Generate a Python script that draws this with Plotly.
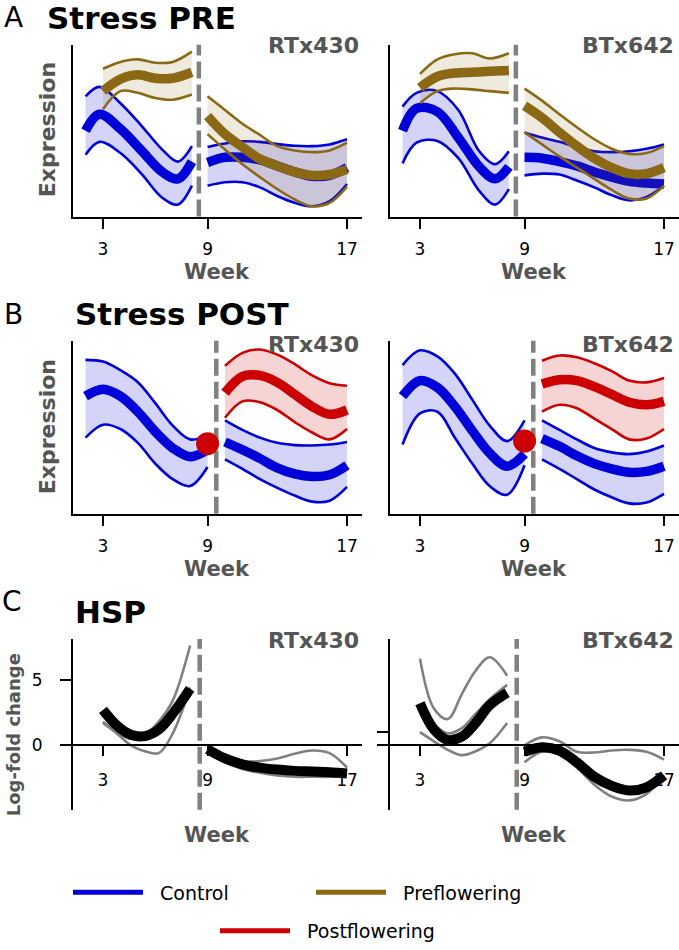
import plotly.graph_objects as go

# ---------------- data ----------------
WEEK_TICKS = [3, 9, 17]
WEEK_TICKTEXT = ["3", "9", "17"]

# Panel A: Stress PRE
A_CTRL_PRE_X = [2.0, 2.8, 4.0, 5.2, 6.4, 7.3, 8.1]
A_STRS_PRE_X = [3.0, 4.0, 5.0, 6.0, 7.0, 8.1]
A_POST_X = [9, 10, 11, 12, 13, 14, 15, 16, 17]

A_R_CTRL_PRE_MEAN = [5.0, 5.95, 5.1, 3.85, 2.6, 2.2, 3.2]
A_R_CTRL_PRE_UP = [7.0, 7.55, 6.6, 5.3, 3.9, 3.2, 4.1]
A_R_CTRL_PRE_LO = [3.6, 4.35, 3.7, 2.5, 1.1, 0.7, 1.8]
A_R_STRS_PRE_MEAN = [7.3, 8.0, 8.25, 8.05, 8.05, 8.4]
A_R_STRS_PRE_UP = [8.6, 9.0, 9.15, 8.95, 9.0, 9.6]
A_R_STRS_PRE_LO = [6.25, 7.3, 7.2, 6.9, 6.8, 7.1]
A_R_CTRL_POST_MEAN = [3.15, 3.45, 3.45, 3.3, 2.95, 2.6, 2.35, 2.4, 2.85]
A_R_CTRL_POST_UP = [4.05, 4.25, 4.38, 4.35, 4.22, 4.12, 4.1, 4.2, 4.5]
A_R_CTRL_POST_LO = [1.8, 2.0, 2.0, 1.7, 1.2, 0.8, 0.6, 0.9, 1.9]
A_R_STRS_POST_MEAN = [5.85, 4.8, 4.05, 3.35, 2.95, 2.6, 2.4, 2.45, 2.75]
A_R_STRS_POST_UP = [7.0, 6.2, 5.4, 4.75, 4.1, 3.85, 3.75, 3.85, 4.3]
A_R_STRS_POST_LO = [4.8, 3.9, 3.05, 2.3, 1.6, 1.0, 0.6, 0.8, 1.75]

A_B_CTRL_PRE_MEAN = [5.0, 6.3, 6.1, 4.6, 2.9, 2.2, 2.9]
A_B_CTRL_PRE_UP = [6.4, 7.2, 7.3, 6.2, 3.8, 3.05, 3.8]
A_B_CTRL_PRE_LO = [3.1, 4.3, 4.4, 3.4, 1.5, 0.7, 1.6]
A_B_STRS_PRE_MEAN = [7.5, 8.15, 8.35, 8.4, 8.45, 8.5]
A_B_STRS_PRE_UP = [8.3, 9.15, 9.45, 9.5, 9.2, 9.5]
A_B_STRS_PRE_LO = [6.6, 7.3, 7.45, 7.4, 7.3, 7.2]
A_B_CTRL_POST_MEAN = [3.45, 3.4, 3.2, 2.95, 2.6, 2.3, 2.05, 1.95, 1.9]
A_B_CTRL_POST_UP = [4.9, 4.6, 4.35, 4.05, 3.8, 3.75, 3.8, 3.95, 4.2]
A_B_CTRL_POST_LO = [2.4, 2.5, 2.45, 2.1, 1.7, 1.25, 0.95, 1.15, 1.8]
A_B_STRS_POST_MEAN = [6.45, 5.75, 4.9, 4.1, 3.4, 2.85, 2.5, 2.5, 2.85]
A_B_STRS_POST_UP = [7.45, 6.75, 5.95, 5.2, 4.5, 3.95, 3.65, 3.7, 4.1]
A_B_STRS_POST_LO = [4.9, 4.2, 3.5, 2.85, 2.2, 1.55, 1.05, 1.05, 1.8]

# Panel B: Stress POST
B_PRE_X = [2, 3, 4, 5, 6, 7, 8, 9]
B_POST_X = [10, 11, 12, 13, 14, 15, 16, 17]

B_R_CTRL_PRE_MEAN = [6.8, 7.2, 6.8, 5.9, 4.75, 3.8, 3.3, 3.7]
B_R_CTRL_PRE_UP = [8.9, 8.8, 8.3, 7.6, 6.4, 5.1, 4.3, 4.55]
B_R_CTRL_PRE_LO = [4.4, 5.15, 4.9, 4.1, 2.9, 2.0, 1.6, 2.7]
B_R_DOT = (9, 4.05)
B_R_STRS_POST_MEAN = [7.0, 7.95, 8.0, 7.6, 6.9, 6.2, 5.75, 6.0]
B_R_STRS_POST_UP = [8.55, 9.3, 9.5, 9.2, 8.65, 8.0, 7.55, 7.4]
B_R_STRS_POST_LO = [5.55, 6.5, 6.45, 6.0, 5.3, 4.7, 4.3, 4.9]
B_R_CTRL_POST_MEAN = [4.15, 3.7, 3.2, 2.65, 2.3, 2.15, 2.25, 2.8]
B_R_CTRL_POST_UP = [5.4, 4.85, 4.4, 4.1, 3.97, 3.95, 4.0, 4.15]
B_R_CTRL_POST_LO = [3.15, 2.6, 2.0, 1.5, 1.05, 0.7, 0.75, 1.55]

B_B_CTRL_PRE_MEAN = [6.8, 7.7, 7.3, 6.2, 4.8, 3.5, 2.75, 3.45]
B_B_CTRL_PRE_UP = [8.6, 9.45, 9.1, 8.1, 6.6, 5.1, 4.2, 5.4]
B_B_CTRL_PRE_LO = [4.0, 5.8, 5.9, 4.4, 2.9, 1.6, 1.1, 2.8]
B_B_DOT = (9, 4.2)
B_B_STRS_POST_MEAN = [7.5, 7.75, 7.7, 7.35, 6.9, 6.45, 6.3, 6.5]
B_B_STRS_POST_UP = [8.85, 9.15, 9.05, 8.7, 8.25, 7.7, 7.6, 7.85]
B_B_STRS_POST_LO = [5.9, 6.3, 6.1, 5.5, 4.9, 4.3, 4.35, 4.9]
B_B_CTRL_POST_MEAN = [4.35, 3.9, 3.35, 2.9, 2.6, 2.4, 2.45, 2.75]
B_B_CTRL_POST_UP = [5.4, 4.85, 4.3, 3.8, 3.55, 3.45, 3.6, 3.95]
B_B_CTRL_POST_LO = [3.15, 2.6, 2.0, 1.4, 0.95, 0.6, 0.65, 1.15]

# Panel C: HSP log-fold change
C_PRE_X = [3.0, 3.8, 4.6, 5.4, 6.2, 7.0, 8.0]
C_POST_X = [9, 10, 11, 12, 13, 14, 15, 16, 17]

C_R_PRE_MEAN = [2.7, 1.5, 0.8, 0.7, 1.2, 2.4, 4.3]
C_R_PRE_G1 = [1.8, 1.0, 0.5, 0.8, 1.8, 3.4, 7.6]
C_R_PRE_G2 = [1.7, 0.9, 0.0, -0.45, -0.6, 0.9, 4.4]
C_R_POST_MEAN = [-0.3, -1.0, -1.45, -1.7, -1.85, -1.95, -2.0, -2.05, -2.15]
C_R_POST_G1 = [-0.3, -0.9, -1.25, -1.2, -1.0, -0.65, -0.4, -0.6, -1.7]
C_R_POST_G2 = [-0.5, -1.3, -1.8, -2.1, -2.3, -2.4, -2.4, -2.4, -2.3]

C_B_PRE_MEAN = [3.2, 1.2, 0.4, 0.65, 1.7, 3.05, 4.0]
C_B_PRE_G1 = [6.6, 2.8, 2.0, 3.9, 5.7, 6.7, 5.3]
C_B_PRE_G2 = [1.0, 0.3, -0.35, -0.75, -0.45, 0.15, 1.7]
C_B_PRE_G3_X = [3.8, 4.6, 5.4, 6.2, 7.0, 8.0]
C_B_PRE_G3 = [1.6, 0.9, 1.3, 2.4, 3.5, 4.6]
C_B_POST_MEAN = [-0.5, -0.15, -0.4, -1.3, -2.4, -3.1, -3.45, -3.2, -2.3]
C_B_POST_G1 = [0.0, 0.6, 0.3, -0.5, -0.55, -0.4, -0.35, -0.5, -1.1]
C_B_POST_G2 = [-1.3, -0.5, -0.7, -1.7, -3.0, -3.9, -4.2, -3.7, -2.3]

STRESS_LINE_A = 8.5
STRESS_LINE_B = 9.5
STRESS_LINE_C = 8.55

# ---------------- styling ----------------
W, H = 679, 950
FONT = "DejaVu Sans"
BLUE = "#0000d8"
BROWN = "#8b6914"
RED = "#cc0000"
BLUE_FILL = "rgba(0,0,216,0.17)"
BROWN_FILL = "rgba(139,105,20,0.14)"
RED_FILL = "rgba(204,0,0,0.17)"
GRAY = "#808080"
LABEL_GRAY = "#555555"
XR = [1.28, 17.86]


def px(x):
    return x / W


def py(y):
    return 1 - y / H


fig = go.Figure()


def band(ax, xs, lo, up, mean, color, fill):
    xa, ya = "x" + ax, "y" + ax
    fig.add_trace(go.Scatter(x=xs, y=lo, mode="lines", xaxis=xa, yaxis=ya,
                             line=dict(color=color, width=2.6, shape="spline"),
                             showlegend=False, hoverinfo="skip"))
    fig.add_trace(go.Scatter(x=xs, y=up, mode="lines", xaxis=xa, yaxis=ya,
                             fill="tonexty", fillcolor=fill,
                             line=dict(color=color, width=2.6, shape="spline"),
                             showlegend=False, hoverinfo="skip"))
    fig.add_trace(go.Scatter(x=xs, y=mean, mode="lines", xaxis=xa, yaxis=ya,
                             line=dict(color=color, width=9.5, shape="spline"),
                             showlegend=False, hoverinfo="skip"))


def thin(ax, xs, ys, color=GRAY, width=2.6):
    fig.add_trace(go.Scatter(x=xs, y=ys, mode="lines", xaxis="x" + ax, yaxis="y" + ax,
                             line=dict(color=color, width=width, shape="spline"),
                             showlegend=False, hoverinfo="skip"))


# Panel A
band("", A_CTRL_PRE_X, A_R_CTRL_PRE_LO, A_R_CTRL_PRE_UP, A_R_CTRL_PRE_MEAN, BLUE, BLUE_FILL)
band("", A_STRS_PRE_X, A_R_STRS_PRE_LO, A_R_STRS_PRE_UP, A_R_STRS_PRE_MEAN, BROWN, BROWN_FILL)
band("", A_POST_X, A_R_CTRL_POST_LO, A_R_CTRL_POST_UP, A_R_CTRL_POST_MEAN, BLUE, BLUE_FILL)
band("", A_POST_X, A_R_STRS_POST_LO, A_R_STRS_POST_UP, A_R_STRS_POST_MEAN, BROWN, BROWN_FILL)

band("2", A_CTRL_PRE_X, A_B_CTRL_PRE_LO, A_B_CTRL_PRE_UP, A_B_CTRL_PRE_MEAN, BLUE, BLUE_FILL)
band("2", A_STRS_PRE_X, A_B_STRS_PRE_LO, A_B_STRS_PRE_UP, A_B_STRS_PRE_MEAN, BROWN, BROWN_FILL)
band("2", A_POST_X, A_B_CTRL_POST_LO, A_B_CTRL_POST_UP, A_B_CTRL_POST_MEAN, BLUE, BLUE_FILL)
band("2", A_POST_X, A_B_STRS_POST_LO, A_B_STRS_POST_UP, A_B_STRS_POST_MEAN, BROWN, BROWN_FILL)

# Panel B
band("3", B_PRE_X, B_R_CTRL_PRE_LO, B_R_CTRL_PRE_UP, B_R_CTRL_PRE_MEAN, BLUE, BLUE_FILL)
band("3", B_POST_X, B_R_CTRL_POST_LO, B_R_CTRL_POST_UP, B_R_CTRL_POST_MEAN, BLUE, BLUE_FILL)
band("3", B_POST_X, B_R_STRS_POST_LO, B_R_STRS_POST_UP, B_R_STRS_POST_MEAN, RED, RED_FILL)
band("4", B_PRE_X, B_B_CTRL_PRE_LO, B_B_CTRL_PRE_UP, B_B_CTRL_PRE_MEAN, BLUE, BLUE_FILL)
band("4", B_POST_X, B_B_CTRL_POST_LO, B_B_CTRL_POST_UP, B_B_CTRL_POST_MEAN, BLUE, BLUE_FILL)
band("4", B_POST_X, B_B_STRS_POST_LO, B_B_STRS_POST_UP, B_B_STRS_POST_MEAN, RED, RED_FILL)
for ax, dot in (("3", B_R_DOT), ("4", B_B_DOT)):
    fig.add_trace(go.Scatter(x=[dot[0]], y=[dot[1]], mode="markers", xaxis="x" + ax, yaxis="y" + ax,
                             marker=dict(color=RED, size=23, line=dict(width=0)),
                             showlegend=False, hoverinfo="skip"))

# Panel C
thin("5", C_PRE_X, C_R_PRE_G1)
thin("5", C_PRE_X, C_R_PRE_G2)
thin("5", C_POST_X, C_R_POST_G1)
thin("5", C_POST_X, C_R_POST_G2)
thin("5", C_PRE_X, C_R_PRE_MEAN, "black", 10)
thin("5", C_POST_X, C_R_POST_MEAN, "black", 10)
thin("6", C_PRE_X, C_B_PRE_G1)
thin("6", C_PRE_X, C_B_PRE_G2)
thin("6", C_B_PRE_G3_X, C_B_PRE_G3)
thin("6", C_POST_X, C_B_POST_G1)
thin("6", C_POST_X, C_B_POST_G2)
thin("6", C_PRE_X, C_B_PRE_MEAN, "black", 10)
thin("6", C_POST_X, C_B_POST_MEAN, "black", 10)

# Legend entries
NBSP = "\u00a0\u00a0"
for name, color, lg in (("Control", BLUE, "legend"), ("Preflowering", BROWN, "legend2"),
                        ("Postflowering", RED, "legend3")):
    fig.add_trace(go.Scatter(x=[None], y=[None], mode="lines", name=NBSP + name, legend=lg,
                             line=dict(color=color, width=5), xaxis="x5", yaxis="y5"))

# ---------------- axes ----------------
LEFT_X = [px(73), px(362)]
RIGHT_X = [px(390), 1.0]
ROWS = {"A": [py(218), py(45)], "B": [py(517), py(343)], "C": [py(815), py(643)]}
tickfont = dict(family=FONT, size=17, color="black")


def xaxis_def(dom, anchor):
    return dict(domain=dom, range=XR, anchor=anchor, showline=True, linecolor="black", linewidth=2,
                ticks="outside", ticklen=10, tickwidth=2, tickcolor="black",
                tickvals=WEEK_TICKS, ticktext=WEEK_TICKTEXT, tickfont=tickfont,
                ticklabelstandoff=6, showgrid=False, zeroline=False, fixedrange=True)


def yaxis_def(dom, anchor, rng, tickvals=None, labels=False):
    d = dict(domain=dom, range=rng, anchor=anchor, showline=True, linecolor="black", linewidth=2,
             showgrid=False, zeroline=False, fixedrange=True, tickfont=tickfont)
    if tickvals is None:
        d.update(ticks="", showticklabels=False)
    else:
        d.update(ticks="outside", ticklen=11, tickwidth=2, tickcolor="black",
                 tickvals=tickvals, showticklabels=labels, ticklabelstandoff=14)
    return d


C_RANGE = [-4.92, 8.1]
zero_pos = py(750)

fig.update_layout(
    xaxis=xaxis_def(LEFT_X, "y"), yaxis=yaxis_def(ROWS["A"], "x", [0, 10]),
    xaxis2=xaxis_def(RIGHT_X, "y2"), yaxis2=yaxis_def(ROWS["A"], "x2", [0, 10]),
    xaxis3=xaxis_def(LEFT_X, "y3"), yaxis3=yaxis_def(ROWS["B"], "x3", [0, 10]),
    xaxis4=xaxis_def(RIGHT_X, "y4"), yaxis4=yaxis_def(ROWS["B"], "x4", [0, 10]),
    xaxis5=dict(xaxis_def(LEFT_X, "y5"), anchor="free", position=zero_pos, ticklabelstandoff=9),
    yaxis5=dict(yaxis_def(ROWS["C"], "x5", C_RANGE, [0, 5], True), ticktext=["0", "5"]),
    xaxis6=dict(xaxis_def(RIGHT_X, "y6"), anchor="free", position=zero_pos, ticklabelstandoff=9),
    yaxis6=yaxis_def(ROWS["C"], "x6", C_RANGE, [0, 1], False),
)

# stress onset dashed lines
shapes = []
for ax, xv in (("", STRESS_LINE_A), ("2", STRESS_LINE_A), ("3", STRESS_LINE_B), ("4", STRESS_LINE_B),
               ("5", STRESS_LINE_C), ("6", STRESS_LINE_C)):
    shapes.append(dict(type="line", xref="x" + ax, yref=("y" + ax) + " domain", x0=xv, x1=xv, y0=0, y1=1,
                       line=dict(color=GRAY, width=4.5, dash="17px,6px"), layer="below"))

# ---------------- text ----------------
ann = []


def text(t, x, y, size, color="black", bold=False, xanchor="center", angle=0):
    ann.append(dict(text=("<b>%s</b>" % t) if bold else t, x=px(x), y=py(y), xref="paper", yref="paper",
                    showarrow=False, xanchor=xanchor, yanchor="middle", textangle=angle,
                    font=dict(family=FONT, size=size, color=color)))


text("A", 2, 18, 28, xanchor="left")
text("Stress PRE", 45, 18, 31, bold=True, xanchor="left")
text("B", 2, 316, 28, xanchor="left")
text("Stress POST", 73, 316, 31, bold=True, xanchor="left")
text("C", 0, 605, 28, xanchor="left")
text("HSP", 73, 616, 31, bold=True, xanchor="left")

for y in (46, 347, 645):
    text("RTx430", 361, y, 22, LABEL_GRAY, True, xanchor="right")
    text("BTx642", 676, y, 22, LABEL_GRAY, True, xanchor="right")

for y in (274, 573, 840):
    text("Week", 217, y, 21, LABEL_GRAY, True)
    text("Week", 534, y, 21, LABEL_GRAY, True)

text("Expression", 47, 131, 22, LABEL_GRAY, True, angle=-90)
text("Expression", 47, 430, 22, LABEL_GRAY, True, angle=-90)
text("Log-fold change", 13, 740, 18, LABEL_GRAY, True, angle=-90)

legfont = dict(family=FONT, size=19, color="black")
fig.update_layout(
    width=W, height=H, margin=dict(l=0, r=0, t=0, b=0),
    paper_bgcolor="white", plot_bgcolor="white",
    shapes=shapes, annotations=ann,
    legend=dict(x=px(68), y=py(898), xanchor="left", yanchor="middle", font=legfont,
                itemwidth=70, bgcolor="rgba(0,0,0,0)"),
    legend2=dict(x=px(311), y=py(898), xanchor="left", yanchor="middle", font=legfont,
                 itemwidth=70, bgcolor="rgba(0,0,0,0)"),
    legend3=dict(x=px(215), y=py(937), xanchor="left", yanchor="middle", font=legfont,
                 itemwidth=70, bgcolor="rgba(0,0,0,0)"),
    font=dict(family=FONT),
)

fig.write_html("out.html", config={"displayModeBar": False},
               post_script="document.body.style.margin='0px';")
